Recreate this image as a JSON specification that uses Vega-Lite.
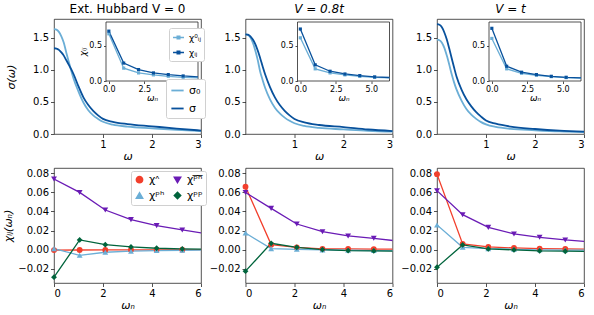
{
"$schema": "https://vega.github.io/schema/vega-lite/v6.json",
"padding": {"left": 2, "top": 2, "right": 5, "bottom": 5},
"config": {
 "font": "DejaVu Sans",
 "view": {"stroke": "#262626", "strokeWidth": 0.8},
 "axis": {"grid": false, "domain": false, "tickColor": "#262626", "tickSize": 3.5, "tickWidth": 0.8, "labelColor": "black", "labelFontSize": 10, "labelPadding": 2, "titleColor": "black", "titleFontSize": 11, "titleFontWeight": "normal", "titleFontStyle": "italic"},
 "title": {"fontSize": 12, "fontWeight": "normal", "offset": 3, "color": "black"},
 "legend": {"fillColor": "white", "strokeColor": "#d0d0d0", "cornerRadius": 2, "padding": 4, "labelFontSize": 11, "labelColor": "black", "title": null},
 "point": {"opacity": 1}
},
"datasets": {
 "sig": [
  {"p":1,"k":"σ₀","w":0,"s":1.634},{"p":1,"k":"σ₀","w":0.05,"s":1.625},{"p":1,"k":"σ₀","w":0.1,"s":1.59},{"p":1,"k":"σ₀","w":0.15,"s":1.52},{"p":1,"k":"σ₀","w":0.2,"s":1.42},{"p":1,"k":"σ₀","w":0.25,"s":1.27},{"p":1,"k":"σ₀","w":0.3,"s":1.13},{"p":1,"k":"σ₀","w":0.35,"s":0.99},{"p":1,"k":"σ₀","w":0.4,"s":0.86},{"p":1,"k":"σ₀","w":0.5,"s":0.66},{"p":1,"k":"σ₀","w":0.6,"s":0.49},{"p":1,"k":"σ₀","w":0.7,"s":0.37},{"p":1,"k":"σ₀","w":0.8,"s":0.29},{"p":1,"k":"σ₀","w":0.9,"s":0.235},{"p":1,"k":"σ₀","w":1.0,"s":0.19},{"p":1,"k":"σ₀","w":1.2,"s":0.145},{"p":1,"k":"σ₀","w":1.5,"s":0.115},{"p":1,"k":"σ₀","w":2.0,"s":0.088},{"p":1,"k":"σ₀","w":2.5,"s":0.063},{"p":1,"k":"σ₀","w":3.0,"s":0.045},
  {"p":1,"k":"σ","w":0,"s":1.335},{"p":1,"k":"σ","w":0.05,"s":1.33},{"p":1,"k":"σ","w":0.1,"s":1.31},{"p":1,"k":"σ","w":0.15,"s":1.27},{"p":1,"k":"σ","w":0.2,"s":1.22},{"p":1,"k":"σ","w":0.25,"s":1.15},{"p":1,"k":"σ","w":0.3,"s":1.08},{"p":1,"k":"σ","w":0.35,"s":1.01},{"p":1,"k":"σ","w":0.4,"s":0.93},{"p":1,"k":"σ","w":0.5,"s":0.74},{"p":1,"k":"σ","w":0.6,"s":0.57},{"p":1,"k":"σ","w":0.7,"s":0.45},{"p":1,"k":"σ","w":0.8,"s":0.36},{"p":1,"k":"σ","w":0.9,"s":0.29},{"p":1,"k":"σ","w":1.0,"s":0.235},{"p":1,"k":"σ","w":1.2,"s":0.19},{"p":1,"k":"σ","w":1.5,"s":0.155},{"p":1,"k":"σ","w":2.0,"s":0.12},{"p":1,"k":"σ","w":2.5,"s":0.085},{"p":1,"k":"σ","w":3.0,"s":0.054},
  {"p":2,"k":"σ₀","w":0,"s":1.55},{"p":2,"k":"σ₀","w":0.05,"s":1.54},{"p":2,"k":"σ₀","w":0.1,"s":1.50},{"p":2,"k":"σ₀","w":0.15,"s":1.42},{"p":2,"k":"σ₀","w":0.2,"s":1.30},{"p":2,"k":"σ₀","w":0.25,"s":1.15},{"p":2,"k":"σ₀","w":0.3,"s":0.97},{"p":2,"k":"σ₀","w":0.35,"s":0.84},{"p":2,"k":"σ₀","w":0.4,"s":0.72},{"p":2,"k":"σ₀","w":0.5,"s":0.54},{"p":2,"k":"σ₀","w":0.6,"s":0.41},{"p":2,"k":"σ₀","w":0.7,"s":0.32},{"p":2,"k":"σ₀","w":0.8,"s":0.255},{"p":2,"k":"σ₀","w":0.9,"s":0.205},{"p":2,"k":"σ₀","w":1.0,"s":0.168},{"p":2,"k":"σ₀","w":1.2,"s":0.125},{"p":2,"k":"σ₀","w":1.5,"s":0.095},{"p":2,"k":"σ₀","w":2.0,"s":0.072},{"p":2,"k":"σ₀","w":2.5,"s":0.05},{"p":2,"k":"σ₀","w":3.0,"s":0.036},
  {"p":2,"k":"σ","w":0,"s":1.55},{"p":2,"k":"σ","w":0.05,"s":1.545},{"p":2,"k":"σ","w":0.1,"s":1.52},{"p":2,"k":"σ","w":0.15,"s":1.47},{"p":2,"k":"σ","w":0.2,"s":1.40},{"p":2,"k":"σ","w":0.25,"s":1.30},{"p":2,"k":"σ","w":0.3,"s":1.18},{"p":2,"k":"σ","w":0.35,"s":1.05},{"p":2,"k":"σ","w":0.4,"s":0.93},{"p":2,"k":"σ","w":0.5,"s":0.73},{"p":2,"k":"σ","w":0.6,"s":0.57},{"p":2,"k":"σ","w":0.7,"s":0.45},{"p":2,"k":"σ","w":0.8,"s":0.36},{"p":2,"k":"σ","w":0.9,"s":0.29},{"p":2,"k":"σ","w":1.0,"s":0.235},{"p":2,"k":"σ","w":1.2,"s":0.18},{"p":2,"k":"σ","w":1.5,"s":0.14},{"p":2,"k":"σ","w":2.0,"s":0.108},{"p":2,"k":"σ","w":2.5,"s":0.07},{"p":2,"k":"σ","w":3.0,"s":0.046},
  {"p":3,"k":"σ₀","w":0,"s":1.47},{"p":3,"k":"σ₀","w":0.05,"s":1.46},{"p":3,"k":"σ₀","w":0.1,"s":1.42},{"p":3,"k":"σ₀","w":0.15,"s":1.34},{"p":3,"k":"σ₀","w":0.2,"s":1.22},{"p":3,"k":"σ₀","w":0.25,"s":1.08},{"p":3,"k":"σ₀","w":0.3,"s":0.93},{"p":3,"k":"σ₀","w":0.35,"s":0.80},{"p":3,"k":"σ₀","w":0.4,"s":0.69},{"p":3,"k":"σ₀","w":0.5,"s":0.52},{"p":3,"k":"σ₀","w":0.6,"s":0.39},{"p":3,"k":"σ₀","w":0.7,"s":0.30},{"p":3,"k":"σ₀","w":0.8,"s":0.235},{"p":3,"k":"σ₀","w":0.9,"s":0.185},{"p":3,"k":"σ₀","w":1.0,"s":0.15},{"p":3,"k":"σ₀","w":1.2,"s":0.11},{"p":3,"k":"σ₀","w":1.5,"s":0.08},{"p":3,"k":"σ₀","w":2.0,"s":0.058},{"p":3,"k":"σ₀","w":2.5,"s":0.04},{"p":3,"k":"σ₀","w":3.0,"s":0.03},
  {"p":3,"k":"σ","w":0,"s":1.71},{"p":3,"k":"σ","w":0.05,"s":1.70},{"p":3,"k":"σ","w":0.1,"s":1.66},{"p":3,"k":"σ","w":0.15,"s":1.58},{"p":3,"k":"σ","w":0.2,"s":1.47},{"p":3,"k":"σ","w":0.25,"s":1.33},{"p":3,"k":"σ","w":0.3,"s":1.18},{"p":3,"k":"σ","w":0.35,"s":1.03},{"p":3,"k":"σ","w":0.4,"s":0.89},{"p":3,"k":"σ","w":0.5,"s":0.69},{"p":3,"k":"σ","w":0.6,"s":0.54},{"p":3,"k":"σ","w":0.7,"s":0.43},{"p":3,"k":"σ","w":0.8,"s":0.34},{"p":3,"k":"σ","w":0.9,"s":0.27},{"p":3,"k":"σ","w":1.0,"s":0.21},{"p":3,"k":"σ","w":1.2,"s":0.16},{"p":3,"k":"σ","w":1.5,"s":0.115},{"p":3,"k":"σ","w":2.0,"s":0.078},{"p":3,"k":"σ","w":2.5,"s":0.052},{"p":3,"k":"σ","w":3.0,"s":0.037}
 ],
 "chi": [
  {"p":1,"k":"χ⁰ᵢⱼ","n":0,"c":0.672},{"p":1,"k":"χ⁰ᵢⱼ","n":1.047,"c":0.183},{"p":1,"k":"χ⁰ᵢⱼ","n":2.094,"c":0.115},{"p":1,"k":"χ⁰ᵢⱼ","n":3.142,"c":0.087},{"p":1,"k":"χ⁰ᵢⱼ","n":4.189,"c":0.067},{"p":1,"k":"χ⁰ᵢⱼ","n":5.236,"c":0.053},{"p":1,"k":"χ⁰ᵢⱼ","n":6.283,"c":0.045},
  {"p":1,"k":"χᵢⱼ","n":0,"c":0.71},{"p":1,"k":"χᵢⱼ","n":1.047,"c":0.255},{"p":1,"k":"χᵢⱼ","n":2.094,"c":0.163},{"p":1,"k":"χᵢⱼ","n":3.142,"c":0.115},{"p":1,"k":"χᵢⱼ","n":4.189,"c":0.091},{"p":1,"k":"χᵢⱼ","n":5.236,"c":0.072},{"p":1,"k":"χᵢⱼ","n":6.283,"c":0.06},
  {"p":2,"k":"χ⁰ᵢⱼ","n":0,"c":0.615},{"p":2,"k":"χ⁰ᵢⱼ","n":1.047,"c":0.173},{"p":2,"k":"χ⁰ᵢⱼ","n":2.094,"c":0.115},{"p":2,"k":"χ⁰ᵢⱼ","n":3.142,"c":0.087},{"p":2,"k":"χ⁰ᵢⱼ","n":4.189,"c":0.067},{"p":2,"k":"χ⁰ᵢⱼ","n":5.236,"c":0.053},{"p":2,"k":"χ⁰ᵢⱼ","n":6.283,"c":0.045},
  {"p":2,"k":"χᵢⱼ","n":0,"c":0.74},{"p":2,"k":"χᵢⱼ","n":1.047,"c":0.23},{"p":2,"k":"χᵢⱼ","n":2.094,"c":0.139},{"p":2,"k":"χᵢⱼ","n":3.142,"c":0.10},{"p":2,"k":"χᵢⱼ","n":4.189,"c":0.077},{"p":2,"k":"χᵢⱼ","n":5.236,"c":0.058},{"p":2,"k":"χᵢⱼ","n":6.283,"c":0.05},
  {"p":3,"k":"χ⁰ᵢⱼ","n":0,"c":0.606},{"p":3,"k":"χ⁰ᵢⱼ","n":1.047,"c":0.173},{"p":3,"k":"χ⁰ᵢⱼ","n":2.094,"c":0.11},{"p":3,"k":"χ⁰ᵢⱼ","n":3.142,"c":0.082},{"p":3,"k":"χ⁰ᵢⱼ","n":4.189,"c":0.062},{"p":3,"k":"χ⁰ᵢⱼ","n":5.236,"c":0.048},{"p":3,"k":"χ⁰ᵢⱼ","n":6.283,"c":0.04},
  {"p":3,"k":"χᵢⱼ","n":0,"c":0.75},{"p":3,"k":"χᵢⱼ","n":1.047,"c":0.21},{"p":3,"k":"χᵢⱼ","n":2.094,"c":0.125},{"p":3,"k":"χᵢⱼ","n":3.142,"c":0.091},{"p":3,"k":"χᵢⱼ","n":4.189,"c":0.067},{"p":3,"k":"χᵢⱼ","n":5.236,"c":0.053},{"p":3,"k":"χᵢⱼ","n":6.283,"c":0.045}
 ],
 "bot": [
  {"p":1,"k":"χᶺ","n":0,"v":-0.0005},{"p":1,"k":"χᶺ","n":1.047,"v":-0.0004},{"p":1,"k":"χᶺ","n":2.094,"v":-0.0003},{"p":1,"k":"χᶺ","n":3.142,"v":-0.0002},{"p":1,"k":"χᶺ","n":4.189,"v":-0.0002},{"p":1,"k":"χᶺ","n":5.236,"v":-0.0001},{"p":1,"k":"χᶺ","n":6.283,"v":-0.0001},
  {"p":1,"k":"χᵖʰ","n":0,"v":0.001},{"p":1,"k":"χᵖʰ","n":1.047,"v":-0.006},{"p":1,"k":"χᵖʰ","n":2.094,"v":-0.0028},{"p":1,"k":"χᵖʰ","n":3.142,"v":-0.0017},{"p":1,"k":"χᵖʰ","n":4.189,"v":-0.001},{"p":1,"k":"χᵖʰ","n":5.236,"v":-0.0007},{"p":1,"k":"χᵖʰ","n":6.283,"v":-0.0005},
  {"p":1,"k":"χᵖ̅ʰ̅","n":0,"v":0.0739},{"p":1,"k":"χᵖ̅ʰ̅","n":1.047,"v":0.0599},{"p":1,"k":"χᵖ̅ʰ̅","n":2.094,"v":0.0415},{"p":1,"k":"χᵖ̅ʰ̅","n":3.142,"v":0.0314},{"p":1,"k":"χᵖ̅ʰ̅","n":4.189,"v":0.0251},{"p":1,"k":"χᵖ̅ʰ̅","n":5.236,"v":0.0206},{"p":1,"k":"χᵖ̅ʰ̅","n":6.283,"v":0.0165},
  {"p":1,"k":"χᵖᵖ","n":0,"v":-0.0289},{"p":1,"k":"χᵖᵖ","n":1.047,"v":0.0101},{"p":1,"k":"χᵖᵖ","n":2.094,"v":0.0052},{"p":1,"k":"χᵖᵖ","n":3.142,"v":0.0028},{"p":1,"k":"χᵖᵖ","n":4.189,"v":0.0014},{"p":1,"k":"χᵖᵖ","n":5.236,"v":0.0007},{"p":1,"k":"χᵖᵖ","n":6.283,"v":0.0004},
  {"p":2,"k":"χᶺ","n":0,"v":0.0659},{"p":2,"k":"χᶺ","n":1.047,"v":0.0052},{"p":2,"k":"χᶺ","n":2.094,"v":0.0024},{"p":2,"k":"χᶺ","n":3.142,"v":0.0007},{"p":2,"k":"χᶺ","n":4.189,"v":0.0007},{"p":2,"k":"χᶺ","n":5.236,"v":0.0005},{"p":2,"k":"χᶺ","n":6.283,"v":0.0004},
  {"p":2,"k":"χᵖʰ","n":0,"v":0.0174},{"p":2,"k":"χᵖʰ","n":1.047,"v":0.001},{"p":2,"k":"χᵖʰ","n":2.094,"v":0.0003},{"p":2,"k":"χᵖʰ","n":3.142,"v":-0.0003},{"p":2,"k":"χᵖʰ","n":4.189,"v":-0.0007},{"p":2,"k":"χᵖʰ","n":5.236,"v":-0.001},{"p":2,"k":"χᵖʰ","n":6.283,"v":-0.0011},
  {"p":2,"k":"χᵖ̅ʰ̅","n":0,"v":0.0599},{"p":2,"k":"χᵖ̅ʰ̅","n":1.047,"v":0.0432},{"p":2,"k":"χᵖ̅ʰ̅","n":2.094,"v":0.0268},{"p":2,"k":"χᵖ̅ʰ̅","n":3.142,"v":0.0188},{"p":2,"k":"χᵖ̅ʰ̅","n":4.189,"v":0.0143},{"p":2,"k":"χᵖ̅ʰ̅","n":5.236,"v":0.0118},{"p":2,"k":"χᵖ̅ʰ̅","n":6.283,"v":0.0088},
  {"p":2,"k":"χᵖᵖ","n":0,"v":-0.0226},{"p":2,"k":"χᵖᵖ","n":1.047,"v":0.0066},{"p":2,"k":"χᵖᵖ","n":2.094,"v":0.0024},{"p":2,"k":"χᵖᵖ","n":3.142,"v":0.0},{"p":2,"k":"χᵖᵖ","n":4.189,"v":-0.001},{"p":2,"k":"χᵖᵖ","n":5.236,"v":-0.0014},{"p":2,"k":"χᵖᵖ","n":6.283,"v":-0.0016},
  {"p":3,"k":"χᶺ","n":0,"v":0.079},{"p":3,"k":"χᶺ","n":1.047,"v":0.0059},{"p":3,"k":"χᶺ","n":2.094,"v":0.0028},{"p":3,"k":"χᶺ","n":3.142,"v":0.0017},{"p":3,"k":"χᶺ","n":4.189,"v":0.001},{"p":3,"k":"χᶺ","n":5.236,"v":0.0007},{"p":3,"k":"χᶺ","n":6.283,"v":0.0005},
  {"p":3,"k":"χᵖʰ","n":0,"v":0.0258},{"p":3,"k":"χᵖʰ","n":1.047,"v":0.0024},{"p":3,"k":"χᵖʰ","n":2.094,"v":0.001},{"p":3,"k":"χᵖʰ","n":3.142,"v":0.0003},{"p":3,"k":"χᵖʰ","n":4.189,"v":-0.0002},{"p":3,"k":"χᵖʰ","n":5.236,"v":-0.0005},{"p":3,"k":"χᵖʰ","n":6.283,"v":-0.0007},
  {"p":3,"k":"χᵖ̅ʰ̅","n":0,"v":0.0617},{"p":3,"k":"χᵖ̅ʰ̅","n":1.047,"v":0.0366},{"p":3,"k":"χᵖ̅ʰ̅","n":2.094,"v":0.0233},{"p":3,"k":"χᵖ̅ʰ̅","n":3.142,"v":0.0164},{"p":3,"k":"χᵖ̅ʰ̅","n":4.189,"v":0.0129},{"p":3,"k":"χᵖ̅ʰ̅","n":5.236,"v":0.0101},{"p":3,"k":"χᵖ̅ʰ̅","n":6.283,"v":0.008},
  {"p":3,"k":"χᵖᵖ","n":0,"v":-0.0185},{"p":3,"k":"χᵖᵖ","n":1.047,"v":0.0049},{"p":3,"k":"χᵖᵖ","n":2.094,"v":0.0007},{"p":3,"k":"χᵖᵖ","n":3.142,"v":-0.0003},{"p":3,"k":"χᵖᵖ","n":4.189,"v":-0.0014},{"p":3,"k":"χᵖᵖ","n":5.236,"v":-0.0017},{"p":3,"k":"χᵖᵖ","n":6.283,"v":-0.0019}
 ]
},
"columns": 3,
"spacing": {"row": 34, "column": 44.5},
"bounds": "flush",
"concat": [
  {"width": 147, "height": 115, "title": {"text": "Ext. Hubbard V = 0"},
   "layer": [
    {"data": {"name": "sig"}, "transform": [{"filter": "datum.p == 1"}],
     "mark": {"type": "line", "strokeWidth": 1.8, "interpolate": "monotone"},
     "encoding": {
      "x": {"field": "w", "type": "quantitative", "scale": {"domain": [0, 3], "nice": false}, "axis": {"orient": "bottom", "values": [1, 2, 3], "title": "ω", "titlePadding": 1}},
      "y": {"field": "s", "type": "quantitative", "scale": {"domain": [0, 1.79], "nice": false}, "axis": {"orient": "left", "values": [0, 0.5, 1, 1.5], "format": ".1f", "title": "σ(ω)", "titlePadding": 16}},
      "color": {"field": "k", "type": "nominal", "scale": {"domain": ["σ₀", "σ"], "range": ["#6baed6", "#08519c"]}, "legend": {"orient": "none", "legendX": 112, "legendY": 60, "symbolType": "stroke", "symbolSize": 150, "symbolStrokeWidth": 1.8, "rowPadding": 5}}
     }},
    {"data": {"name": "chi"}, "transform": [{"filter": "datum.p == 1"}],
     "layer": [
      {"data": {"values": [{}]}, "transform": [], "mark": {"type": "rect", "fill": "white", "stroke": "#262626", "strokeWidth": 0.8},
       "encoding": {"x": {"datum": -0.2, "type": "quantitative"}, "x2": {"datum": 6.283}, "y": {"datum": 0, "type": "quantitative"}, "y2": {"datum": 0.84}}},
      {"mark": {"type": "line", "strokeWidth": 1.3},
       "encoding": {
        "x": {"field": "n", "type": "quantitative", "scale": {"domain": [-0.2, 6.283], "range": [52, 144], "nice": false, "zero": false}, "axis": {"orient": "bottom", "offset": -53, "values": [0, 2.5, 5], "format": ".1f", "title": "ωₙ", "labelFontSize": 8, "titleFontSize": 9, "tickSize": 2.5, "titlePadding": 0}},
        "y": {"field": "c", "type": "quantitative", "scale": {"domain": [0, 0.84], "range": [62, 3], "nice": false}, "axis": {"orient": "left", "offset": -52, "values": [0, 0.5], "format": ".1f", "title": "χᵢⱼ", "labelFontSize": 8, "titleFontSize": 9, "tickSize": 2.5, "titlePadding": 1}},
        "color": {"field": "k", "type": "nominal", "scale": {"domain": ["χ⁰ᵢⱼ", "χᵢⱼ"], "range": ["#6baed6", "#08519c"]}, "legend": {"orient": "none", "legendX": 115, "legendY": 9, "symbolType": "M-1,0H1M-0.25,-0.25H0.25V0.25H-0.25Z", "symbolSize": 120, "symbolStrokeWidth": 1.3, "labelFontSize": 9, "padding": 3, "rowPadding": 3}}
       }},
      {"transform": [{"filter": "datum.n < 6"}], "mark": {"type": "square", "size": 10, "opacity": 1},
       "encoding": {"x": {"field": "n", "type": "quantitative"}, "y": {"field": "c", "type": "quantitative"}, "color": {"field": "k", "type": "nominal"}}}
     ]}
   ],
   "resolve": {"scale": {"x": "independent", "y": "independent", "color": "independent"}}},
  {"width": 147, "height": 115, "title": {"text": "V = 0.8t", "fontStyle": "italic"},
   "layer": [
    {"data": {"name": "sig"}, "transform": [{"filter": "datum.p == 2"}],
     "mark": {"type": "line", "strokeWidth": 1.8, "interpolate": "monotone"},
     "encoding": {
      "x": {"field": "w", "type": "quantitative", "scale": {"domain": [0, 3], "nice": false}, "axis": {"orient": "bottom", "values": [1, 2, 3], "title": "ω", "titlePadding": 1}},
      "y": {"field": "s", "type": "quantitative", "scale": {"domain": [0, 1.79], "nice": false}, "axis": {"orient": "left", "values": [0, 0.5, 1, 1.5], "format": ".1f", "title": null}},
      "color": {"field": "k", "type": "nominal", "scale": {"domain": ["σ₀", "σ"], "range": ["#6baed6", "#08519c"]}, "legend": null}
     }},
    {"data": {"name": "chi"}, "transform": [{"filter": "datum.p == 2"}],
     "layer": [
      {"data": {"values": [{}]}, "transform": [], "mark": {"type": "rect", "fill": "white", "stroke": "#262626", "strokeWidth": 0.8},
       "encoding": {"x": {"datum": -0.2, "type": "quantitative"}, "x2": {"datum": 6.283}, "y": {"datum": 0, "type": "quantitative"}, "y2": {"datum": 0.84}}},
      {"mark": {"type": "line", "strokeWidth": 1.3},
       "encoding": {
        "x": {"field": "n", "type": "quantitative", "scale": {"domain": [-0.2, 6.283], "range": [52, 144], "nice": false, "zero": false}, "axis": {"orient": "bottom", "offset": -53, "values": [0, 2.5, 5], "format": ".1f", "title": "ωₙ", "labelFontSize": 8, "titleFontSize": 9, "tickSize": 2.5, "titlePadding": 0}},
        "y": {"field": "c", "type": "quantitative", "scale": {"domain": [0, 0.84], "range": [62, 3], "nice": false}, "axis": {"orient": "left", "offset": -52, "values": [0, 0.5], "format": ".1f", "title": null, "labelFontSize": 8, "tickSize": 2.5}},
        "color": {"field": "k", "type": "nominal", "scale": {"domain": ["χ⁰ᵢⱼ", "χᵢⱼ"], "range": ["#6baed6", "#08519c"]}, "legend": null}
       }},
      {"transform": [{"filter": "datum.n < 6"}], "mark": {"type": "square", "size": 10, "opacity": 1},
       "encoding": {"x": {"field": "n", "type": "quantitative"}, "y": {"field": "c", "type": "quantitative"}, "color": {"field": "k", "type": "nominal"}}}
     ]}
   ],
   "resolve": {"scale": {"x": "independent", "y": "independent", "color": "independent"}}},
  {"width": 147, "height": 115, "title": {"text": "V = t", "fontStyle": "italic"},
   "layer": [
    {"data": {"name": "sig"}, "transform": [{"filter": "datum.p == 3"}],
     "mark": {"type": "line", "strokeWidth": 1.8, "interpolate": "monotone"},
     "encoding": {
      "x": {"field": "w", "type": "quantitative", "scale": {"domain": [0, 3], "nice": false}, "axis": {"orient": "bottom", "values": [1, 2, 3], "title": "ω", "titlePadding": 1}},
      "y": {"field": "s", "type": "quantitative", "scale": {"domain": [0, 1.79], "nice": false}, "axis": {"orient": "left", "values": [0, 0.5, 1, 1.5], "format": ".1f", "title": null}},
      "color": {"field": "k", "type": "nominal", "scale": {"domain": ["σ₀", "σ"], "range": ["#6baed6", "#08519c"]}, "legend": null}
     }},
    {"data": {"name": "chi"}, "transform": [{"filter": "datum.p == 3"}],
     "layer": [
      {"data": {"values": [{}]}, "transform": [], "mark": {"type": "rect", "fill": "white", "stroke": "#262626", "strokeWidth": 0.8},
       "encoding": {"x": {"datum": -0.2, "type": "quantitative"}, "x2": {"datum": 6.283}, "y": {"datum": 0, "type": "quantitative"}, "y2": {"datum": 0.84}}},
      {"mark": {"type": "line", "strokeWidth": 1.3},
       "encoding": {
        "x": {"field": "n", "type": "quantitative", "scale": {"domain": [-0.2, 6.283], "range": [52, 144], "nice": false, "zero": false}, "axis": {"orient": "bottom", "offset": -53, "values": [0, 2.5, 5], "format": ".1f", "title": "ωₙ", "labelFontSize": 8, "titleFontSize": 9, "tickSize": 2.5, "titlePadding": 0}},
        "y": {"field": "c", "type": "quantitative", "scale": {"domain": [0, 0.84], "range": [62, 3], "nice": false}, "axis": {"orient": "left", "offset": -52, "values": [0, 0.5], "format": ".1f", "title": null, "labelFontSize": 8, "tickSize": 2.5}},
        "color": {"field": "k", "type": "nominal", "scale": {"domain": ["χ⁰ᵢⱼ", "χᵢⱼ"], "range": ["#6baed6", "#08519c"]}, "legend": null}
       }},
      {"transform": [{"filter": "datum.n < 6"}], "mark": {"type": "square", "size": 10, "opacity": 1},
       "encoding": {"x": {"field": "n", "type": "quantitative"}, "y": {"field": "c", "type": "quantitative"}, "color": {"field": "k", "type": "nominal"}}}
     ]}
   ],
   "resolve": {"scale": {"x": "independent", "y": "independent", "color": "independent"}}},
  {"width": 147, "height": 115, "data": {"name": "bot"}, "transform": [{"filter": "datum.p == 1"}],
   "encoding": {
    "x": {"field": "n", "type": "quantitative", "scale": {"domain": [0, 6], "nice": false}, "axis": {"values": [0, 2, 4, 6], "title": "ωₙ", "titlePadding": 1}},
    "y": {"field": "v", "type": "quantitative", "scale": {"domain": [-0.035, 0.0855], "nice": false, "zero": false}, "axis": {"values": [-0.02, 0, 0.02, 0.04, 0.06, 0.08], "format": ".2f", "title": "χᵢⱼ(ωₙ)", "titlePadding": 4}},
    "color": {"field": "k", "type": "nominal", "scale": {"domain": ["χᶺ", "χᵖʰ", "χᵖ̅ʰ̅", "χᵖᵖ"], "range": ["#f23f2c", "#6baed6", "#6a1bb5", "#00643c"]}, "legend": {"orient": "none", "legendX": 77, "legendY": 152, "columns": 2, "columnPadding": 6, "rowPadding": 3, "symbolSize": 40, "padding": 3}}
   },
   "layer": [
    {"mark": {"type": "line", "strokeWidth": 1.3, "clip": true}},
    {"transform": [{"filter": "datum.n < 6"}], "mark": {"type": "point", "filled": true, "size": 34},
     "encoding": {"shape": {"field": "k", "type": "nominal", "scale": {"domain": ["χᶺ", "χᵖʰ", "χᵖ̅ʰ̅", "χᵖᵖ"], "range": ["circle", "triangle-up", "triangle-down", "diamond"]}, "legend": {"orient": "none", "legendX": 77, "legendY": 152, "columns": 2, "columnPadding": 6, "rowPadding": 3, "symbolSize": 40, "padding": 3}}}}
   ]},
  {"width": 147, "height": 115, "data": {"name": "bot"}, "transform": [{"filter": "datum.p == 2"}],
   "encoding": {
    "x": {"field": "n", "type": "quantitative", "scale": {"domain": [0, 6], "nice": false}, "axis": {"values": [0, 2, 4, 6], "title": "ωₙ", "titlePadding": 1}},
    "y": {"field": "v", "type": "quantitative", "scale": {"domain": [-0.035, 0.0855], "nice": false, "zero": false}, "axis": {"values": [-0.02, 0, 0.02, 0.04, 0.06, 0.08], "format": ".2f", "title": null}},
    "color": {"field": "k", "type": "nominal", "scale": {"domain": ["χᶺ", "χᵖʰ", "χᵖ̅ʰ̅", "χᵖᵖ"], "range": ["#f23f2c", "#6baed6", "#6a1bb5", "#00643c"]}, "legend": null}
   },
   "layer": [
    {"mark": {"type": "line", "strokeWidth": 1.3, "clip": true}},
    {"transform": [{"filter": "datum.n < 6"}], "mark": {"type": "point", "filled": true, "size": 34},
     "encoding": {"shape": {"field": "k", "type": "nominal", "scale": {"domain": ["χᶺ", "χᵖʰ", "χᵖ̅ʰ̅", "χᵖᵖ"], "range": ["circle", "triangle-up", "triangle-down", "diamond"]}, "legend": null}}}
   ]},
  {"width": 147, "height": 115, "data": {"name": "bot"}, "transform": [{"filter": "datum.p == 3"}],
   "encoding": {
    "x": {"field": "n", "type": "quantitative", "scale": {"domain": [0, 6], "nice": false}, "axis": {"values": [0, 2, 4, 6], "title": "ωₙ", "titlePadding": 1}},
    "y": {"field": "v", "type": "quantitative", "scale": {"domain": [-0.035, 0.0855], "nice": false, "zero": false}, "axis": {"values": [-0.02, 0, 0.02, 0.04, 0.06, 0.08], "format": ".2f", "title": null}},
    "color": {"field": "k", "type": "nominal", "scale": {"domain": ["χᶺ", "χᵖʰ", "χᵖ̅ʰ̅", "χᵖᵖ"], "range": ["#f23f2c", "#6baed6", "#6a1bb5", "#00643c"]}, "legend": null}
   },
   "layer": [
    {"mark": {"type": "line", "strokeWidth": 1.3, "clip": true}},
    {"transform": [{"filter": "datum.n < 6"}], "mark": {"type": "point", "filled": true, "size": 34},
     "encoding": {"shape": {"field": "k", "type": "nominal", "scale": {"domain": ["χᶺ", "χᵖʰ", "χᵖ̅ʰ̅", "χᵖᵖ"], "range": ["circle", "triangle-up", "triangle-down", "diamond"]}, "legend": null}}}
   ]}
]
}
